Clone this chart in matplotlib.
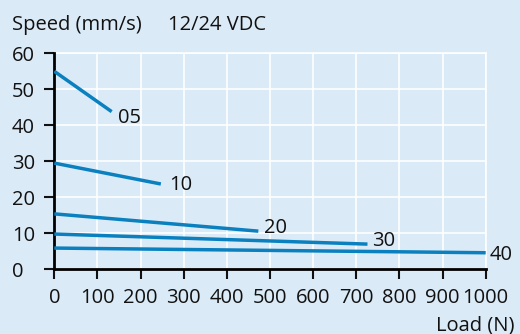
import matplotlib
matplotlib.use("Agg")
import matplotlib.pyplot as plt

# Data
series_labels = ["05", "10", "20", "30", "40"]
load_start = [0, 0, 0, 0, 0]
load_end = [133, 247, 473, 726, 1000]
speed_start = [55.0, 29.5, 15.4, 9.8, 5.9]
speed_end = [43.8, 23.7, 10.6, 7.0, 4.6]
x_ticks = [0, 100, 200, 300, 400, 500, 600, 700, 800, 900, 1000]
y_ticks = [0, 10, 20, 30, 40, 50, 60]

# label anchor positions (data coords)
label_x = [147, 267, 485, 736, 1010]
label_y = [42.0, 23.5, 11.5, 8.0, 4.1]

BG = "#dbeaf7"
LINE = "#0a80bf"
FS = 14.5

plt.rcParams['font.family'] = ['Open Sans', 'DejaVu Sans']

fig = plt.figure(figsize=(5.20, 3.34), dpi=100, facecolor=BG)
ax = fig.add_axes([0.1044, 0.1937, 0.8296, 0.6467], facecolor=BG)

for lab, x0, x1, y0, y1, lx, ly in zip(series_labels, load_start, load_end,
                                       speed_start, speed_end, label_x, label_y):
    ax.plot([x0, x1], [y0, y1], color=LINE, lw=2.5, solid_capstyle='butt', zorder=3)
    ax.text(lx, ly, lab, fontsize=FS, ha='left', va='center', color='#111111')

ax.set_xlim(0, 1000)
ax.set_ylim(0, 60)
ax.set_xticks(x_ticks)
ax.set_yticks(y_ticks)
ax.grid(True, color='white', lw=1.2, zorder=0)
ax.set_axisbelow(True)
for s in ['top', 'right']:
    ax.spines[s].set_visible(False)
for s in ['left', 'bottom']:
    ax.spines[s].set_linewidth(2)
    ax.spines[s].set_color('black')
ax.tick_params(axis='both', length=7.5, width=1.5, labelsize=FS, colors='#111111')
ax.tick_params(axis='y', pad=23)
ax.tick_params(axis='x', pad=6)
for t in ax.get_yticklabels():
    t.set_ha('left')
ax.plot([1000, 1000], [0, 60], color='white', lw=1.2, zorder=0, clip_on=False)
ax.plot([0, 1000], [60, 60], color='white', lw=1.2, zorder=0, clip_on=False)

fig.text(12/520, 1 - 25/334, "Speed (mm/s)", fontsize=FS, ha='left', va='center', color='#111111')
fig.text(168/520, 1 - 25/334, "12/24 VDC", fontsize=FS, ha='left', va='center', color='#111111')
fig.text(514/520, 1 - 325/334, "Load (N)", fontsize=FS, ha='right', va='center', color='#111111')

fig.savefig("out.png", dpi=100, facecolor=BG)
